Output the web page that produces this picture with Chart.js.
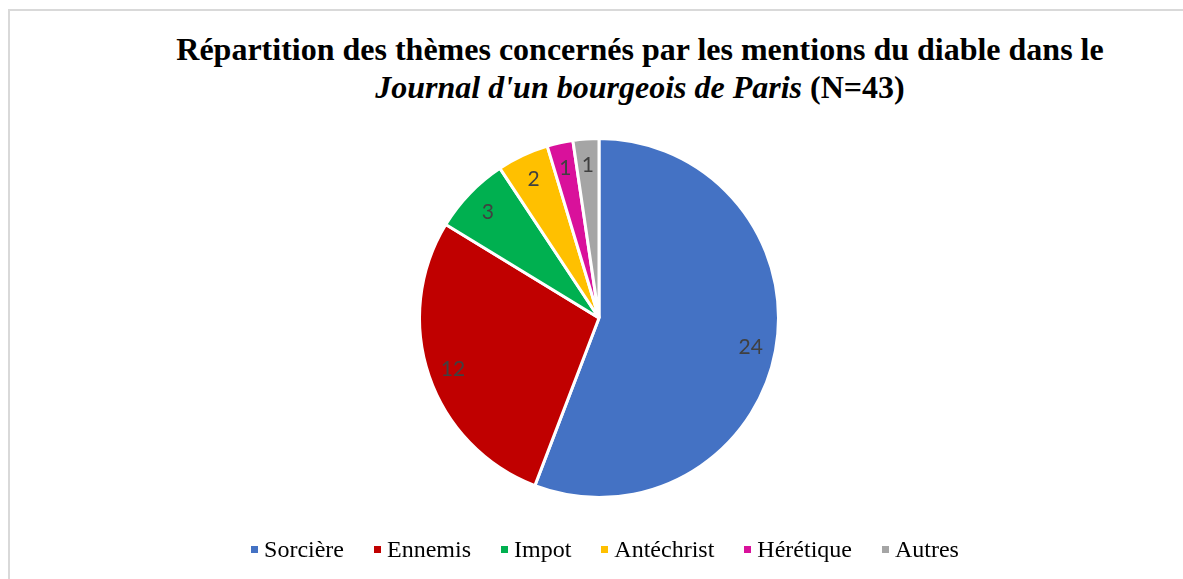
<!DOCTYPE html>
<html>
<head>
<meta charset="utf-8">
<script src="https://cdn.jsdelivr.net/npm/chart.js@4"></script>
<style>
  body { margin: 0; background: #fff; width: 1183px; height: 579px; overflow: hidden; position: relative; }
  .frame { position: absolute; left: 8px; top: 9px; width: 1300px; height: 700px; border: 2px solid #d9d9d9; }
  .serif { font-family: 'Liberation Serif', 'Times New Roman', Times, serif; }
  .titre { position: absolute; left: 140px; width: 1000px; top: 30px; text-align: center;
    font-weight: bold; font-size: 32px; line-height: 38px; color: #000; }
  #wrap { position: absolute; left: 0; top: 0; width: 1183px; height: 579px; }
  .legende { position: absolute; left: 0; width: 1210px; top: 536px; text-align: center;
    font-size: 24px; color: #000; white-space: nowrap; }
  .legende span.item { display: inline-block; margin: 0 15px; }
  .legende span.box { display: inline-block; width: 7px; height: 7px; margin-right: 6px; vertical-align: 4px; }
</style>
</head>
<body>
<div class="frame"></div>
<div class="titre serif">Répartition des thèmes concernés par les mentions du diable dans le<br><i>Journal d'un bourgeois de Paris</i> (N=43)</div>
<div id="wrap"><canvas id="myChart" width="1183" height="579"></canvas></div>
<div class="legende serif" id="legende"></div>
<script>
const themes = ['Sorcière', 'Ennemis', 'Impot', 'Antéchrist', 'Hérétique', 'Autres'];
const mentions = [24, 12, 3, 2, 1, 1];
const couleurs = ['#4472C4', '#C00000', '#00B050', '#FFC000', '#D9119B', '#A5A5A5'];

// valeurs posées dans chaque part, vers le bord
const etiquettes = {
    id: 'etiquettes',
    afterDatasetsDraw(chart) {
        const c = chart.ctx;
        const meta = chart.getDatasetMeta(0);
        c.save();
        c.font = '21px Lato, "Open Sans", sans-serif';
        c.fillStyle = '#404040';
        c.textAlign = 'center';
        c.textBaseline = 'middle';
        meta.data.forEach((arc, i) => {
            const mid = (arc.startAngle + arc.endAngle) / 2;
            const r = arc.outerRadius * 0.86;
            c.fillText(String(mentions[i]), arc.x + Math.cos(mid) * r, arc.y + Math.sin(mid) * r + 1);
        });
        c.restore();
    }
};

const ctx = document.getElementById('myChart').getContext('2d');
const myChart = new Chart(ctx, {
    type: 'pie',
    data: {
        labels: themes,
        datasets: [{
            data: mentions,
            backgroundColor: couleurs,
            borderColor: '#ffffff',
            borderWidth: 3
        }]
    },
    options: {
        responsive: false,
        animation: false,
        layout: { padding: { top: 137, bottom: 80, left: 15, right: 0 } },
        plugins: {
            legend: { display: false },
            tooltip: { enabled: false }
        }
    },
    plugins: [etiquettes]
});

const legende = document.getElementById('legende');
themes.forEach((t, i) => {
    const item = document.createElement('span');
    item.className = 'item';
    const box = document.createElement('span');
    box.className = 'box';
    box.style.background = couleurs[i];
    item.appendChild(box);
    item.appendChild(document.createTextNode(t));
    legende.appendChild(item);
});
</script>
</body>
</html>
